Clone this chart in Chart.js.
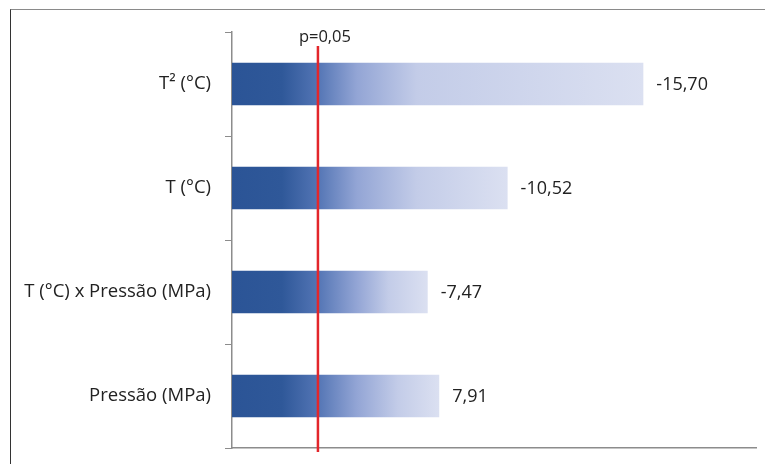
<!DOCTYPE html>
<html>
<head>
<meta charset="utf-8">
<script src="https://cdn.jsdelivr.net/npm/chart.js@4"></script>
<style>
  body { margin: 0; background: #fff; }
  #wrap { position: relative; width: 765px; height: 464px; }
  #frame { position: absolute; left: 10px; top: 9px; width: 770px; height: 470px;
           border-top: 1px solid #8a8a8a; border-left: 1px solid #333; }
  canvas { position: absolute; left: 0; top: 0; }
</style>
</head>
<body>
<div id="wrap">
  <div id="frame"></div>
  <canvas id="chart" width="765" height="464"></canvas>
</div>
<script>
// dados
const fatores = ['T² (°C)', 'T (°C)', 'T (°C) x Pressão (MPa)', 'Pressão (MPa)'];
const efeitos = [-15.70, -10.52, -7.47, 7.91];
const pLimite = 3.28; // linha p=0,05
const pRotulo = 'p=0,05';
const xMax = 20;

const fonte = '"Open Sans", Lato, sans-serif';

// gradiente azul escuro -> lilás claro em cada barra
function corBarra(ctx) {
  const chart = ctx.chart;
  const area = chart.chartArea;
  if (!area || ctx.type !== 'data') return '#2E5597';
  const x0 = chart.scales.x.getPixelForValue(0);
  const x1 = chart.scales.x.getPixelForValue(Math.abs(efeitos[ctx.dataIndex]));
  const len = x1 - x0;
  const g = chart.ctx.createLinearGradient(x0, 0, x1, 0);
  g.addColorStop(0, '#2B5496');
  g.addColorStop(50 / len, '#2F5899');
  g.addColorStop(85 / len, '#5274b4');
  g.addColorStop(125 / len, '#93a5d5');
  g.addColorStop(Math.min(0.8, 185 / len), '#c3cce8');
  g.addColorStop(1, '#dbe0f1');
  return g;
}

const linhaP = {
  id: 'linhaP',
  afterDatasetsDraw(chart) {
    const c = chart.ctx;
    const x = chart.scales.x.getPixelForValue(pLimite);
    c.save();
    c.strokeStyle = '#e3262b';
    c.lineWidth = 2.5;
    c.beginPath();
    c.moveTo(x, 46);
    c.lineTo(x, chart.chartArea.bottom + 4);
    c.stroke();
    c.fillStyle = '#222';
    c.font = '16.5px ' + fonte;
    c.textAlign = 'center';
    c.textBaseline = 'middle';
    c.fillText(pRotulo, x + 7, 37);
    // valores ao lado das barras
    c.font = '18px ' + fonte;
    c.textAlign = 'left';
    const meta = chart.getDatasetMeta(0);
    meta.data.forEach((bar, i) => {
      c.fillText(efeitos[i].toFixed(2).replace('.', ','), bar.x + 13, bar.y + 1);
    });
    c.restore();
  }
};

new Chart(document.getElementById('chart'), {
  type: 'bar',
  data: {
    labels: fatores,
    datasets: [{
      data: efeitos.map(v => Math.abs(v)),
      backgroundColor: corBarra,
      borderWidth: 0,
      barPercentage: 0.41,
      categoryPercentage: 1
    }]
  },
  options: {
    indexAxis: 'y',
    responsive: false,
    animation: false,
    layout: { padding: { left: 0, top: 32, right: 9, bottom: 16 } },
    plugins: { legend: { display: false }, tooltip: { enabled: false } },
    scales: {
      x: {
        min: 0, max: xMax,
        ticks: { display: false },
        grid: { display: false, drawTicks: false },
        border: { display: true, color: '#8c8c8c', width: 1.5 },
        afterFit: s => { s.height = 0; s.paddingLeft = 0; s.paddingRight = 0; }
      },
      y: {
        ticks: { color: '#222', font: { family: fonte, size: 18.5 }, padding: 14 },
        grid: { drawOnChartArea: false, offset: true, tickLength: 7, color: '#8c8c8c' },
        border: { display: true, color: '#8c8c8c', width: 1.5 },
        afterFit: s => { s.width = 232; s.paddingTop = 0; s.paddingBottom = 0; }
      }
    }
  },
  plugins: [linhaP]
});
</script>
</body>
</html>
